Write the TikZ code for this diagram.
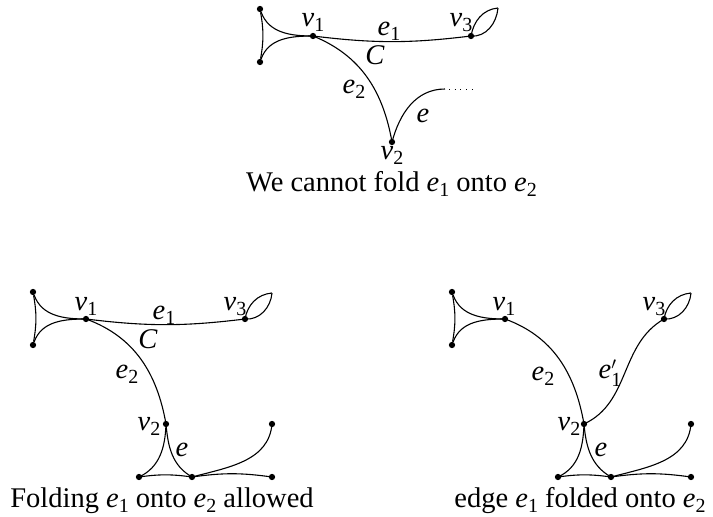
\documentclass[tikz,border=0pt]{standalone}
\usepackage{fontspec}
\setmainfont{Liberation Serif}
\newcommand{\mlab}[2]{\textit{#1}\raisebox{-0.2em}{\fontsize{20}{20}\selectfont #2}}
\begin{document}
\begin{tikzpicture}[x=1pt,y=1pt,
  vtx/.style={circle,fill=black,inner sep=0pt,minimum size=6.3pt},
  lab/.style={anchor=base,inner sep=0pt,font=\fontsize{28.5}{33}\selectfont},
  edge/.style={line width=1.1pt}]
\useasboundingbox (0,0) rectangle (713,-517);

% ---------- top diagram ----------
\node[vtx] (tA) at (260,-9) {};
\node[vtx] (tB) at (260,-62) {};
\node[vtx] (tv1) at (313,-36) {};
\node[vtx] (tv3) at (471,-36) {};
\node[vtx] (tv2) at (392,-142) {};
\coordinate (ttip) at (498,-8);
\coordinate (teend) at (445,-89);
\coordinate (tdend) at (474,-89);

\draw[edge] (tA) to[out=-70,in=180] (tv1.center);
\draw[edge] (tB) to[out=70,in=180] (tv1.center);
\draw[edge] (tA) to[bend left=10] (tB);
\draw[edge] (tv1.center) to[bend right=7] (tv3.center);
\draw[edge] (tv1.center) to[out=-22,in=100] (tv2.center);
\draw[edge] (tv2.center) to[out=75,in=180] (teend);
\draw[line width=0.6pt,dash pattern=on 0.7pt off 5pt] ([xshift=4pt]teend) -- (tdend);
\draw[edge] (tv3.center) to[out=80,in=185] (ttip);
\draw[edge] (tv3.center) to[out=-5,in=-95] (ttip);

\node[lab] (ltv1) at (313,-26) {\mlab{v}{1}};
\node[lab] (lte1) at (389,-35) {\mlab{e}{1}};
\node[lab] (ltv3) at (461,-26) {\mlab{v}{3}};
\node[lab] (ltC) at (375,-64) {\textit{C}};
\node[lab] (lte2) at (354,-93) {\mlab{e}{2}};
\node[lab] (lte) at (423,-122) {\textit{e}};
\node[lab] (ltv2) at (392,-159) {\mlab{v}{2}};
\node[lab] (cap1) at (391.5,-191) {We cannot fold \mlab{e}{1} onto \mlab{e}{2}};

% ---------- bottom-left diagram ----------
\node[vtx] (lA) at (33,-292) {};
\node[vtx] (lB) at (33,-345) {};
\node[vtx] (lv1) at (86,-319) {};
\node[vtx] (lv3) at (245,-319) {};
\node[vtx] (lv2) at (166,-424) {};
\node[vtx] (lR) at (272,-424) {};
\node[vtx] (lP) at (139,-477) {};
\node[vtx] (lQ) at (192,-477) {};
\node[vtx] (lS) at (272,-477) {};
\coordinate (ltip) at (272,-293);

\draw[edge] (lA) to[out=-70,in=180] (lv1.center);
\draw[edge] (lB) to[out=70,in=180] (lv1.center);
\draw[edge] (lA) to[bend left=10] (lB);
\draw[edge] (lv1.center) to[bend right=7] (lv3.center);
\draw[edge] (lv1.center) to[out=-20,in=100] (lv2.center);
\draw[edge] (lv3.center) to[out=80,in=185] (ltip);
\draw[edge] (lv3.center) to[out=-5,in=-95] (ltip);
\draw[edge] (lv2.center) to[out=-92,in=25] (lP.center);
\draw[edge] (lv2.center) to[out=-85,in=150] (lQ.center);
\draw[edge] (lP.center) to[bend left=8] (lQ.center);
\draw[edge] (lQ.center) to[bend left=8] (lS.center);
\draw[edge] (lQ.center) to[out=15,in=-95] (lR.center);

\node[lab] (llv1) at (86,-310) {\mlab{v}{1}};
\node[lab] (lle1) at (164,-319) {\mlab{e}{1}};
\node[lab] (llv3) at (235,-310) {\mlab{v}{3}};
\node[lab] (llC) at (148,-348) {\textit{C}};
\node[lab] (lle2) at (127,-378) {\mlab{e}{2}};
\node[lab] (llv2) at (149,-430) {\mlab{v}{2}};
\node[lab] (lle) at (182,-456) {\textit{e}};
\node[lab] (cap2) at (162,-507) {Folding \mlab{e}{1} onto \mlab{e}{2} allowed};

% ---------- bottom-right diagram ----------
\node[vtx] (rA) at (452,-292) {};
\node[vtx] (rB) at (452,-345) {};
\node[vtx] (rv1) at (505,-319) {};
\node[vtx] (rv3) at (664,-319) {};
\node[vtx] (rv2) at (584,-424) {};
\node[vtx] (rR) at (691,-424) {};
\node[vtx] (rP) at (558,-477) {};
\node[vtx] (rQ) at (611,-477) {};
\node[vtx] (rS) at (691,-477) {};
\coordinate (rtip) at (691,-293);

\draw[edge] (rA) to[out=-70,in=180] (rv1.center);
\draw[edge] (rB) to[out=70,in=180] (rv1.center);
\draw[edge] (rA) to[bend left=10] (rB);
\draw[edge] (rv1.center) to[out=-20,in=100] (rv2.center);
\draw[edge] (rv2.center) to[out=25,in=210] (rv3.center);
\draw[edge] (rv3.center) to[out=80,in=185] (rtip);
\draw[edge] (rv3.center) to[out=-5,in=-95] (rtip);
\draw[edge] (rv2.center) to[out=-92,in=25] (rP.center);
\draw[edge] (rv2.center) to[out=-85,in=150] (rQ.center);
\draw[edge] (rP.center) to[bend left=8] (rQ.center);
\draw[edge] (rQ.center) to[bend left=8] (rS.center);
\draw[edge] (rQ.center) to[out=15,in=-95] (rR.center);

\node[lab] (lrv1) at (504,-310) {\mlab{v}{1}};
\node[lab] (lrv3) at (654,-310) {\mlab{v}{3}};
\node[lab] (lre2) at (543,-380) {\mlab{e}{2}};
\node[lab] (lre1) at (610,-378) {\textit{e}\rlap{\raisebox{9pt}{\fontsize{19}{19}\selectfont$\prime$}}\raisebox{-0.3em}{\fontsize{20}{20}\selectfont 1}};
\node[lab] (lrv2) at (569,-430) {\mlab{v}{2}};
\node[lab] (lre) at (601,-456) {\textit{e}};
\node[lab] (cap3) at (580,-507) {edge \mlab{e}{1} folded onto \mlab{e}{2}};
\end{tikzpicture}
\end{document}
